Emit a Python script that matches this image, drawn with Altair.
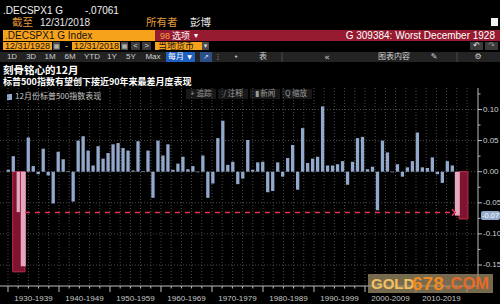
import altair as alt
import pandas as pd

# ---------------- data ----------------
years = list(range(1928, 2019))
dec_returns = [
    0.003, 0.025, -0.065, -0.152, 0.055, 0.009, -0.004, 0.037, -0.006, -0.051,
    0.032, 0.020, 0.001, -0.048, 0.050, 0.057, 0.034, 0.010, 0.041, 0.021,
    0.030, 0.044, 0.046, 0.038, 0.034, 0.002, 0.049, 0.001, 0.034, -0.042,
    0.050, 0.026, 0.044, 0.003, 0.013, 0.024, 0.004, 0.009, -0.001, 0.026,
    -0.042, -0.019, 0.054, 0.082, 0.011, 0.016, -0.020, -0.011, 0.051, 0.003,
    0.015, 0.016, -0.033, -0.031, 0.015, -0.008, 0.022, 0.043, -0.029, 0.070,
    0.014, 0.021, 0.024, 0.105, 0.010, 0.010, 0.012, 0.017, -0.021, 0.016,
    0.054, 0.056, 0.004, 0.008, -0.062, 0.050, 0.031, -0.001, 0.012, -0.008,
    0.007, 0.017, 0.063, 0.007, 0.006, 0.023, -0.004, -0.018, 0.017, 0.010,
    -0.0706,
]
highlight_years = [1930, 1931, 2018]
highlight_width = [3.3, 5.0, 5.0]
box_from = [1929.84, 2017.35]
box_to = [1932.25, 2019.11]
box_low = [-0.161, -0.076]
arrow_from, arrow_to, arrow_level = 1932.25, 2016.6, -0.0655
latest_value = -0.0706
latest_label = "-0.07"
y_ticks = [0.10, 0.05, 0.0, -0.05, -0.10, -0.15]
y_tick_labels = ["0.10", "0.05", "0.00", "-0.05", "-0.10", "-0.15"]
y_minor = [0.125, 0.075, 0.025, -0.025, -0.075, -0.125]
decades = list(range(1930, 2020, 10))
decade_labels = [f"{d}-{d + 9}" for d in decades]
grid_years = list(range(1930, 2022, 2))

series_name = "12月份标普500指数表现"
title_1 = "刻骨铭心的12月"
title_2 = "标普500指数有望创下接近90年来最差月度表现"

# ---------------- scales / styling ----------------
XS = alt.Scale(domain=[1928, 2018], range=[3.3, 462.3], nice=False, zero=False)
YS = alt.Scale(domain=[-0.15, 0.10], range=[265, 109.5], nice=False)
AXIS_X_END = 2021.08
AXIS_PX = 478
BAR = "#93a9cc"
PINK = "#e6a8bf"
CRIMSON = "#961a30"
ORANGE = "#f7a21b"
F_LAT = "Liberation Sans, Noto Sans CJK SC"
F_CJK = "Noto Sans CJK SC"
F_SYM = "DejaVu Sans, Noto Sans CJK SC"


def boundary(y):
    return y - 1.08


# ---------------- helpers for UI (pixel positioned) ----------------
def texts(items, font, weight="normal", align="left"):
    df = pd.DataFrame(items, columns=["px", "py", "label", "col", "fs"])
    return alt.Chart(df).mark_text(font=font, fontWeight=weight, align=align,
                                   baseline="middle").encode(
        x=alt.X("px:Q", scale=None, axis=None),
        y=alt.Y("py:Q", scale=None, axis=None),
        text="label:N",
        color=alt.Color("col:N", scale=None, legend=None),
        size=alt.Size("fs:Q", scale=None, legend=None),
    )


def rects(items, opacity=1.0, corner=0):
    df = pd.DataFrame(items, columns=["x1", "y1", "x2", "y2", "col"])
    return alt.Chart(df).mark_rect(opacity=opacity, cornerRadius=corner).encode(
        x=alt.X("x1:Q", scale=None, axis=None),
        x2="x2:Q",
        y=alt.Y("y1:Q", scale=None, axis=None),
        y2="y2:Q",
        color=alt.Color("col:N", scale=None, legend=None),
    )


def vrules(items, color, dash=None, width=1):
    df = pd.DataFrame(items, columns=["x1", "y1", "y2"])
    kw = dict(color=color, strokeWidth=width)
    if dash:
        kw["strokeDash"] = dash
    return alt.Chart(df).mark_rule(**kw).encode(
        x=alt.X("x1:Q", scale=None, axis=None),
        y=alt.Y("y1:Q", scale=None, axis=None),
        y2="y2:Q",
    )


# ---------------- UI chrome ----------------
ui_rects = rects([
    (3, 30, 155, 41, ORANGE),
    (155, 30, 500, 41, CRIMSON),
    (3, 42, 52, 50, ORANGE),
    (53, 42, 60, 50, "#4a4a4a"),
    (72, 42, 120, 50, ORANGE),
    (121, 42, 128, 50, "#4a4a4a"),
    (131, 42, 140, 50, "#3a3a3a"),
    (142, 42, 151, 50, "#3a3a3a"),
    (155, 42, 202, 50, ORANGE),
    (202, 42, 209, 50, "#4a4a4a"),
    (470, 42, 483, 50, "#3a3a3a"),
    (485, 42, 498, 50, "#3a3a3a"),
    (0, 52, 500, 62, "#232323"),
    (166, 52, 195, 62, "#1f5fbf"),
    (200, 52, 212, 62, "#2b4f86"),
    (491, 18, 498, 26, "#f2f2f2"),
    (186, 89, 216, 99, "#181818"),
    (218, 89, 248, 99, "#181818"),
    (250, 89, 280, 99, "#181818"),
    (282, 89, 312, 99, "#181818"),
    (7, 94, 12, 100, BAR),
])

ui_lat = texts([
    (3, 10.5, ".DECSPX1 G", "#f2f2f2", 10),
    (85, 10.5, "-.07061", "#f2f2f2", 10),
    (40, 23, "12/31/2018", "#e6e6e6", 10),
    (5, 35.5, ".DECSPX1 G Index", "#111111", 10),
    (160, 35.5, "98", "#f5a040", 9),
    (5, 46, "12/31/1928", "#111111", 9),
    (65, 46, "-", "#dddddd", 9),
    (74, 46, "12/31/2018", "#111111", 9),
], F_LAT)

ui_lat_c = texts([
    (135.5, 46, "<", "#dddddd", 8),
    (146.5, 46, ">", "#dddddd", 8),
    (12, 57, "1D", "#d0d0d0", 8),
    (31, 57, "3D", "#d0d0d0", 8),
    (50, 57, "1M", "#d0d0d0", 8),
    (70, 57, "6M", "#d0d0d0", 8),
    (92, 57, "YTD", "#d0d0d0", 8),
    (112, 57, "1Y", "#d0d0d0", 8),
    (131, 57, "5Y", "#d0d0d0", 8),
    (153, 57, "Max", "#d0d0d0", 8),
], F_LAT, align="center")

ui_right = texts([
    (495, 35.5, "G 309384: Worst December 1928", "#ffffff", 10),
], F_LAT, align="right")

ui_cjk = texts([
    (12, 23, "截至", "#e39a3a", 10.5),
    (146, 23, "所有者", "#e39a3a", 10.5),
    (190, 23, "彭博", "#e6e6e6", 10.5),
    (172, 35.5, "选项", "#ffffff", 9),
    (158, 46, "当地货币", "#111111", 9),
    (15, 97, series_name, "#c8c8c8", 8),
], F_CJK)

ui_cjk_c = texts([
    (176, 57, "每月", "#ffffff", 8),
    (263, 57, "表", "#d0d0d0", 8),
    (394, 57, "图表内容", "#d0d0d0", 8),
    (201, 94, "+ 追踪", "#9a9a9a", 7.5),
    (233, 94, "/ 注释", "#9a9a9a", 7.5),
    (265, 94, "▮ 新闻", "#9a9a9a", 7.5),
    (296, 94, "Q 缩放", "#9a9a9a", 7.5),
], F_CJK, align="center")

ui_sym = texts([
    (196, 35.5, "▾", "#ffffff", 8),
    (205.5, 46, "▾", "#dddddd", 7),
    (56.5, 46, "▦", "#cccccc", 6),
    (124.5, 46, "▦", "#cccccc", 6),
    (476.5, 46, "↶", "#eeeeee", 8),
    (491.5, 46, "↷", "#999999", 8),
    (189.5, 57, "▼", "#ffffff", 6),
    (206, 57, "↗", "#e0e0ff", 7),
    (218, 57, "⋮", "#d0d0d0", 7),
    (236, 57, "•", "#d0d0d0", 7),
    (327, 57, "«", "#d0d0d0", 9),
    (434, 57, "✎", "#d0d0d0", 8),
    (478, 57, "⚙", "#d0d0d0", 8),
], F_SYM, align="center")

ui_titles = texts([
    (3, 70.5, title_1, "#ffffff", 10.5),
    (3, 81.5, title_2, "#ffffff", 9),
], F_CJK, weight="bold")

ui_seps = vrules([(282, 52, 62), (457, 52, 62)], "#4a4a4a")

# ---------------- plot ----------------
grid_v = alt.Chart(pd.DataFrame({"gx": [boundary(y) for y in grid_years]})).mark_rule(
    color="#4a4a4a", strokeDash=[1, 2], strokeWidth=1).encode(
    x=alt.X("gx:Q", scale=XS, axis=None), y=alt.value(88), y2=alt.value(286))

grid_h = alt.Chart(pd.DataFrame({"gy": y_ticks})).mark_rule(
    color="#4a4a4a", strokeDash=[1, 2], strokeWidth=1).encode(
    y=alt.Y("gy:Q", scale=YS, axis=None), x=alt.value(0), x2=alt.value(AXIS_PX))

bars_df = pd.DataFrame({"year": years, "ret": dec_returns, "zero": 0.0})
normal_df = bars_df[~bars_df["year"].isin(highlight_years)]
bars = alt.Chart(normal_df).mark_bar(size=3.3, color=BAR).encode(
    x=alt.X("year:Q", scale=XS, axis=None),
    y=alt.Y("ret:Q", scale=YS, axis=None),
    y2="zero:Q",
)

box_df = pd.DataFrame({"b0": box_from, "b1": box_to, "lo": box_low, "zero": 0.0})
boxes = alt.Chart(box_df).mark_rect(fill="#7e1530", stroke="#c42a4c", strokeWidth=1).encode(
    x=alt.X("b0:Q", scale=XS, axis=None), x2="b1:Q",
    y=alt.Y("zero:Q", scale=YS, axis=None), y2="lo:Q",
)

hl_df = bars_df[bars_df["year"].isin(highlight_years)].copy()
hl_df["w"] = highlight_width
hl_bars = alt.Chart(hl_df).mark_bar(color=PINK).encode(
    x=alt.X("year:Q", scale=XS, axis=None),
    y=alt.Y("ret:Q", scale=YS, axis=None),
    y2="zero:Q",
    size=alt.Size("w:Q", scale=None, legend=None),
)

arrow_df = pd.DataFrame({"a0": [arrow_from], "a1": [arrow_to], "lvl": [arrow_level]})
arrow_line = alt.Chart(arrow_df).mark_rule(color="#e8305a", strokeDash=[5, 5], strokeWidth=1.6).encode(
    x=alt.X("a0:Q", scale=XS, axis=None), x2="a1:Q",
    y=alt.Y("lvl:Q", scale=YS, axis=None),
)
arrow_head = alt.Chart(arrow_df).mark_point(
    shape="M-1,-1L0,0L-1,1", filled=False, size=40, strokeWidth=1.6,
    color="#e8305a", opacity=1).encode(
    x=alt.X("a1:Q", scale=XS, axis=None),
    y=alt.Y("lvl:Q", scale=YS, axis=None),
)

# y axis (right)
y_axis_line = alt.Chart(pd.DataFrame({"x1": [AXIS_PX]})).mark_rule(color="#bbbbbb").encode(
    x=alt.X("x1:Q", scale=None, axis=None), y=alt.value(88), y2=alt.value(286))
y_major = alt.Chart(pd.DataFrame({"v": y_ticks})).mark_rule(color="#bbbbbb").encode(
    y=alt.Y("v:Q", scale=YS, axis=None), x=alt.value(AXIS_PX), x2=alt.value(AXIS_PX + 4))
y_min = alt.Chart(pd.DataFrame({"v": y_minor})).mark_rule(color="#bbbbbb").encode(
    y=alt.Y("v:Q", scale=YS, axis=None), x=alt.value(AXIS_PX), x2=alt.value(AXIS_PX + 2.5))
y_labels = alt.Chart(pd.DataFrame({"v": y_ticks, "t": y_tick_labels})).mark_text(
    align="left", baseline="middle", font=F_LAT, fontSize=8, color="#d0d0d0").encode(
    y=alt.Y("v:Q", scale=YS, axis=None), x=alt.value(AXIS_PX + 5), text="t:N")

tag_df = pd.DataFrame({"v": [latest_value], "t": [latest_label]})
tag_box = alt.Chart(tag_df).mark_tick(thickness=9, size=19, cornerRadius=2,
                                      color=BAR, opacity=1).encode(
    y=alt.Y("v:Q", scale=YS, axis=None), x=alt.value(490.5))
tag_text = alt.Chart(tag_df).mark_text(align="center", baseline="middle", font=F_LAT,
                                       fontSize=7.5, color="#ffffff").encode(
    y=alt.Y("v:Q", scale=YS, axis=None), x=alt.value(490.5), text="t:N")

# x axis (bottom)
x_axis_line = alt.Chart(pd.DataFrame({"y1": [286]})).mark_rule(color="#bbbbbb").encode(
    y=alt.Y("y1:Q", scale=None, axis=None), x=alt.value(0), x2=alt.value(AXIS_PX))
major_b = [boundary(d) for d in decades + [2020]]
minor_b = [boundary(y) for y in grid_years if y % 10 != 0]
x_major = alt.Chart(pd.DataFrame({"b": major_b})).mark_rule(color="#bbbbbb").encode(
    x=alt.X("b:Q", scale=XS, axis=None), y=alt.value(286), y2=alt.value(292))
x_min = alt.Chart(pd.DataFrame({"b": minor_b})).mark_rule(color="#bbbbbb").encode(
    x=alt.X("b:Q", scale=XS, axis=None), y=alt.value(286), y2=alt.value(288.5))
dec_pos = [(max(boundary(d), 1928) + min(boundary(d + 10), AXIS_X_END)) / 2 for d in decades]
x_labels = alt.Chart(pd.DataFrame({"c": dec_pos, "t": decade_labels})).mark_text(
    align="center", baseline="middle", font=F_LAT, fontSize=8, color="#c8c8c8").encode(
    x=alt.X("c:Q", scale=XS, axis=None), y=alt.value(299), text="t:N")

# watermark
wm_box = rects([(368, 274, 493, 293, "#9c8c68")], opacity=0.75)
wm_text = texts([
    (371, 283.5, "GOLD", "#f3c060", 15),
    (412, 283.5, "678", "#f08a20", 19),
    (446, 283.5, ".COM", "#e86a28", 16.5),
], "Liberation Sans", weight="bold")

chart = alt.layer(
    ui_rects, ui_seps, ui_lat, ui_lat_c, ui_right, ui_cjk, ui_cjk_c, ui_sym, ui_titles,
    grid_v, grid_h, boxes, bars, hl_bars, arrow_line, arrow_head,
    y_axis_line, y_major, y_min, y_labels, tag_box, tag_text,
    x_axis_line, x_major, x_min, x_labels, wm_box, wm_text,
).resolve_scale(
    x="independent", y="independent", color="independent", size="independent"
).properties(
    width=500, height=304, padding=0, background="#000000",
    autosize=alt.AutoSizeParams(type="none"),
).configure_view(strokeWidth=0)

chart.save("out.html", embed_options={"renderer": "svg", "actions": False})
